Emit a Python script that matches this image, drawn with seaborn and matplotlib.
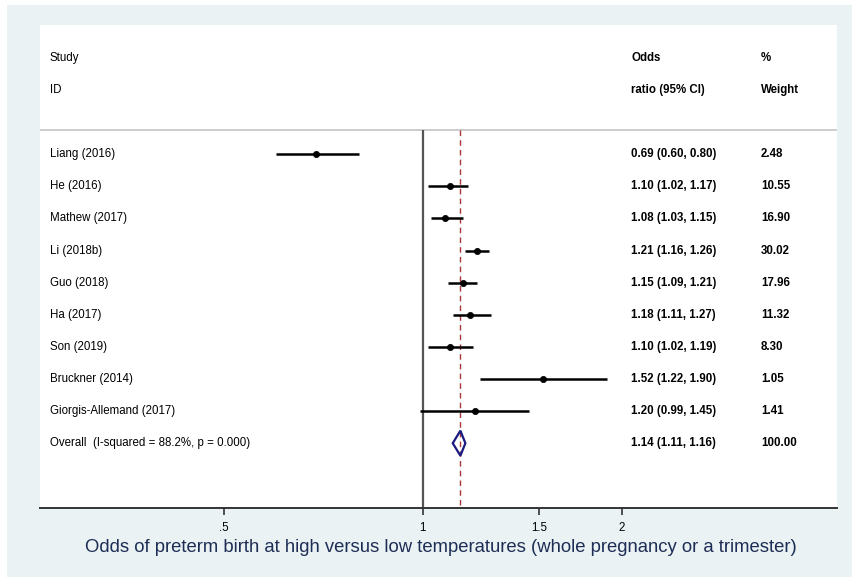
import numpy as np
import pandas as pd
import matplotlib
matplotlib.use("Agg")
import matplotlib.pyplot as plt
import matplotlib.transforms as mtransforms
from matplotlib.patches import Polygon
import seaborn as sns

# ---------------- data ----------------
studies = ["Liang (2016)", "He (2016)", "Mathew (2017)", "Li (2018b)", "Guo (2018)",
           "Ha (2017)", "Son (2019)", "Bruckner (2014)", "Giorgis-Allemand (2017)"]
or_est = [0.69, 1.10, 1.08, 1.21, 1.15, 1.18, 1.10, 1.52, 1.20]
ci_low = [0.60, 1.02, 1.03, 1.16, 1.09, 1.11, 1.02, 1.22, 0.99]
ci_high = [0.80, 1.17, 1.15, 1.26, 1.21, 1.27, 1.19, 1.90, 1.45]
weights = [2.48, 10.55, 16.90, 30.02, 17.96, 11.32, 8.30, 1.05, 1.41]

overall_label = "Overall  (I-squared = 88.2%, p = 0.000)"
overall_est = 1.14
overall_low = 1.11
overall_high = 1.16
overall_weight = 100.00

tick_values = [0.5, 1, 1.5, 2]
tick_labels = [".5", "1", "1.5", "2"]
x_title = "Odds of preterm birth at high versus low temperatures (whole pregnancy or a trimester)"

df = pd.DataFrame({"study": studies, "or": or_est, "lo": ci_low, "hi": ci_high,
                   "w": weights, "row": np.arange(len(studies))})

# ---------------- style ----------------
sns.set_theme(style="white")
plt.rcParams["font.family"] = ["Liberation Sans", "DejaVu Sans"]
plt.rcParams["text.color"] = "black"
plt.rcParams["xtick.color"] = "black"

W, H = 852, 579
fig = plt.figure(figsize=(W / 100, H / 100), dpi=100)
fig.patch.set_facecolor("white")
bg = "#eaf2f3"
bg_ax = fig.add_axes([7 / W, (H - 577) / H, (W - 7) / W, (577 - 5) / H], zorder=-5)
bg_ax.set_facecolor(bg)
bg_ax.set_xticks([])
bg_ax.set_yticks([])
for s in bg_ax.spines.values():
    s.set_visible(False)

ax_l, ax_r, ax_t, ax_b = 40, 836.7, 25, 507.7
ax = fig.add_axes([ax_l / W, (H - ax_b) / H, (ax_r - ax_l) / W, (ax_b - ax_t) / H], zorder=1)
ax.set_facecolor("white")

# log scale: x=1 at px 422.8, 286.9 px per ln unit
px_one, px_per_ln = 422.8, 286.9
ax.set_xscale("log")
ax.set_xlim(np.exp((ax_l - px_one) / px_per_ln), np.exp((ax_r - px_one) / px_per_ln))
row_h = 32.1
y_first = 154.3
ax.set_ylim((ax_b - y_first) / row_h, -(y_first - ax_t) / row_h)

sep_y = -(y_first - 130) / row_h
n = len(studies)
overall_row = n

# separator line
ax.axhline(sep_y, color="#c4c4c4", lw=1.2, zorder=1)
# null line and overall line
ax.vlines(1, sep_y, ax.get_ylim()[0], color="#555555", lw=1.6, zorder=2)
ax.vlines(overall_est, sep_y, ax.get_ylim()[0], color="#a83838", lw=1.0,
          linestyles=(0, (4, 3)), zorder=2)

# CIs and points
ax.hlines(df["row"], df["lo"], df["hi"], color="black", lw=1.8, zorder=3)
sns.scatterplot(data=df, x="or", y="row", ax=ax, color="black", marker="o",
                s=20, edgecolor="black", linewidth=0.5, zorder=4, legend=False)

# overall diamond
dh = 0.39
diamond = Polygon([(overall_low, overall_row), (overall_est, overall_row - dh),
                   (overall_high, overall_row), (overall_est, overall_row + dh)],
                  closed=True, facecolor="none", edgecolor="#1a1a80", lw=1.6, zorder=5)
ax.add_patch(diamond)

# text columns
trans = mtransforms.blended_transform_factory(ax.transAxes, ax.transData)
def xf(px):
    return (px - ax_l) / (ax_r - ax_l)

fs = 8.3
ax.text(xf(50), -3, "Study", transform=trans, fontsize=fs, va="center", ha="left")
ax.text(xf(50), -2, "ID", transform=trans, fontsize=fs, va="center", ha="left")
ax.text(xf(631), -3, "Odds", transform=trans, fontsize=fs, va="center", ha="left", fontweight="bold")
ax.text(xf(631), -2, "ratio (95% CI)", transform=trans, fontsize=fs, va="center", ha="left", fontweight="bold")
ax.text(xf(761), -3, "%", transform=trans, fontsize=fs, va="center", ha="left", fontweight="bold")
ax.text(xf(761), -2, "Weight", transform=trans, fontsize=fs, va="center", ha="left", fontweight="bold")

for _, r in df.iterrows():
    ax.text(xf(50), r["row"], r["study"], transform=trans, fontsize=fs, va="center", ha="left")
    ax.text(xf(631), r["row"], f"{r['or']:.2f} ({r['lo']:.2f}, {r['hi']:.2f})", transform=trans,
            fontsize=fs, va="center", ha="left", fontweight="bold")
    ax.text(xf(761), r["row"], f"{r['w']:.2f}", transform=trans, fontsize=fs, va="center",
            ha="left", fontweight="bold")

ax.text(xf(50), overall_row, overall_label, transform=trans, fontsize=fs, va="center", ha="left")
ax.text(xf(631), overall_row, f"{overall_est:.2f} ({overall_low:.2f}, {overall_high:.2f})",
        transform=trans, fontsize=fs, va="center", ha="left", fontweight="bold")
ax.text(xf(761), overall_row, f"{overall_weight:.2f}", transform=trans, fontsize=fs,
        va="center", ha="left", fontweight="bold")

# axes styling
for s in ["top", "left", "right"]:
    ax.spines[s].set_visible(False)
ax.spines["bottom"].set_color("#333333")
ax.spines["bottom"].set_linewidth(1.4)
ax.set_yticks([])
ax.xaxis.set_minor_locator(matplotlib.ticker.NullLocator())
ax.set_xticks(tick_values)
ax.set_xticklabels(tick_labels)
ax.tick_params(axis="x", which="major", direction="out", length=5, width=1.2,
               color="#333333", labelcolor="black", labelsize=fs, pad=5.5, bottom=True)
ax.set_ylabel("")
ax.set_xlabel(x_title, fontsize=13.3, color="#1e2d55")
ax.xaxis.set_label_coords((441 - ax_l) / (ax_r - ax_l), -(547 - ax_b) / (ax_b - ax_t))
ax.xaxis.label.set_verticalalignment("center")

fig.savefig("out.png", dpi=100, facecolor=fig.get_facecolor())
